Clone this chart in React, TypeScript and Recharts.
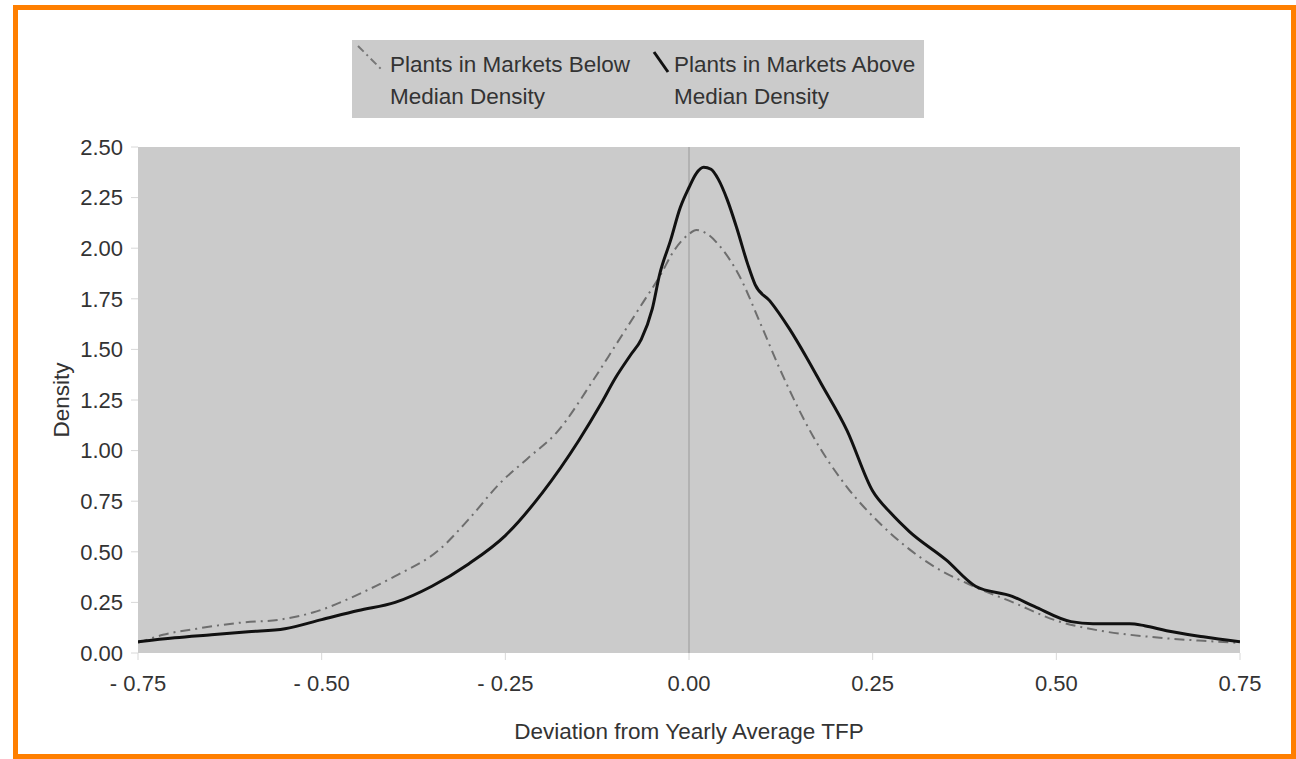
import * as React from "react";
import {
  CartesianGrid,
  Line,
  LineChart,
  ReferenceLine,
  XAxis,
  YAxis,
} from "recharts";

const xTicks = [-0.75, -0.5, -0.25, 0, 0.25, 0.5, 0.75];
const yTicks = [0, 0.25, 0.5, 0.75, 1, 1.25, 1.5, 1.75, 2, 2.25, 2.5];

// plants in markets above median density (solid)
const aboveX = [
  -0.75, -0.7, -0.65, -0.6, -0.55, -0.5, -0.45, -0.4, -0.35, -0.3, -0.25, -0.2,
  -0.15, -0.12, -0.1, -0.08, -0.065, -0.05, -0.04, -0.025, -0.012, 0, 0.01,
  0.02, 0.03, 0.04, 0.052, 0.065, 0.08, 0.09, 0.11, 0.137, 0.16, 0.18, 0.215,
  0.25, 0.275, 0.3, 0.35, 0.39, 0.44, 0.47, 0.52, 0.55, 0.6, 0.62, 0.65, 0.7,
  0.75,
];
const aboveY = [
  0.055, 0.075, 0.09, 0.105, 0.12, 0.165, 0.21, 0.25, 0.33, 0.44, 0.58, 0.79,
  1.05, 1.23, 1.36, 1.47, 1.55, 1.7, 1.87, 2.04, 2.2, 2.3, 2.37, 2.4, 2.39,
  2.34, 2.24, 2.1, 1.92, 1.82, 1.74, 1.6, 1.46, 1.33, 1.1, 0.8, 0.69, 0.6,
  0.46, 0.33, 0.28, 0.23, 0.155, 0.145, 0.145, 0.135, 0.11, 0.08, 0.055,
];

// plants in markets below median density (dash-dot)
const belowX = [
  -0.75, -0.716, -0.67, -0.61, -0.557, -0.512, -0.444, -0.4, -0.34, -0.3,
  -0.257, -0.22, -0.18, -0.13, -0.1, -0.063, -0.04, -0.02, 0, 0.01, 0.025,
  0.042, 0.069, 0.097, 0.124, 0.169, 0.215, 0.26, 0.328, 0.387, 0.441, 0.5,
  0.56, 0.627, 0.7, 0.75,
];
const belowY = [
  0.05, 0.09, 0.12, 0.15, 0.165, 0.2, 0.3, 0.38, 0.51, 0.66, 0.84, 0.96, 1.09,
  1.35, 1.52, 1.73, 1.86, 1.99, 2.07, 2.09, 2.07, 2.01, 1.86, 1.63, 1.4, 1.07,
  0.82, 0.64, 0.44, 0.33, 0.25, 0.16, 0.11, 0.08, 0.06, 0.05,
];

const aboveData = aboveX.map((x, i) => ({ x, y: aboveY[i] }));
const belowData = belowX.map((x, i) => ({ x, y: belowY[i] }));

const FONT = '"Liberation Sans", Arial, sans-serif';
const TEXT = "#333";

function fmtX(v: number) {
  const s = Math.abs(v).toFixed(2);
  return v < 0 ? `-  ${s}` : s;
}

export default function App() {
  return (
    <div
      style={{
        position: "absolute",
        left: 0,
        top: 0,
        width: 1296,
        height: 759,
        background: "#fff",
        fontFamily: FONT,
        overflow: "hidden",
      }}
    >
      <div
        style={{
          position: "absolute",
          left: 13,
          top: 5,
          width: 1283,
          height: 754,
          border: "5px solid #ff7f00",
          boxSizing: "border-box",
        }}
      />

      {/* legend */}
      <div
        style={{
          position: "absolute",
          left: 352,
          top: 40,
          width: 572,
          height: 78,
          background: "#cbcbcb",
          color: TEXT,
          fontSize: 22.5,
          lineHeight: "32px",
        }}
      >
        <svg
          width={572}
          height={78}
          style={{ position: "absolute", left: 0, top: 0 }}
        >
          <line
            x1={6}
            y1={6}
            x2={31}
            y2={31}
            stroke="#777"
            strokeWidth={2}
            strokeDasharray="8 4 2 4"
          />
          <line x1={302} y1={12} x2={316} y2={32} stroke="#111" strokeWidth={3} />
        </svg>
        <div style={{ position: "absolute", left: 38, top: 9, whiteSpace: "nowrap" }}>
          Plants in Markets Below
          <br />
          Median Density
        </div>
        <div style={{ position: "absolute", left: 322, top: 9, whiteSpace: "nowrap" }}>
          Plants in Markets Above
          <br />
          Median Density
        </div>
      </div>

      <div style={{ position: "absolute", left: 0, top: 0 }}>
        <LineChart
          width={1296}
          height={759}
          margin={{ top: 147, right: 56, left: 78, bottom: 76 }}
        >
          <CartesianGrid
            fill="#cbcbcb"
            horizontal={false}
            vertical={false}
          />
          <XAxis
            type="number"
            dataKey="x"
            domain={[-0.75, 0.75]}
            ticks={xTicks}
            tickFormatter={fmtX}
            allowDataOverflow
            axisLine={false}
            tickLine={{ stroke: "#d8d8d8" }}
            tickSize={7}
            tickMargin={15}
            height={30}
            tick={{ fill: TEXT, fontSize: 22, fontFamily: FONT, style: { whiteSpace: "pre" } }}
            label={{
              value: "Deviation from Yearly Average TFP",
              position: "insideBottom",
              offset: -56,
              fill: TEXT,
              fontSize: 22.5,
              fontFamily: FONT,
            }}
          />
          <YAxis
            type="number"
            domain={[0, 2.5]}
            ticks={yTicks}
            tickFormatter={(v: number) => v.toFixed(2)}
            allowDataOverflow
            axisLine={false}
            tickLine={{ stroke: "#d8d8d8" }}
            tickSize={7}
            tickMargin={8}
            width={60}
            tick={{ fill: TEXT, fontSize: 22, fontFamily: FONT }}
            label={{
              value: "Density",
              angle: -90,
              position: "insideLeft",
              offset: -17,
              textAnchor: "middle",
              fill: TEXT,
              fontSize: 22.5,
              fontFamily: FONT,
            }}
          />
          <ReferenceLine x={0} stroke="#999" strokeWidth={1} />
          <Line
            data={belowData}
            dataKey="y"
            type="monotone"
            stroke="#6e6e6e"
            strokeWidth={2}
            strokeDasharray="10 5 2 5"
            dot={false}
            isAnimationActive={false}
          />
          <Line
            data={aboveData}
            dataKey="y"
            type="monotone"
            stroke="#111"
            strokeWidth={3}
            dot={false}
            isAnimationActive={false}
          />
        </LineChart>
      </div>
    </div>
  );
}
